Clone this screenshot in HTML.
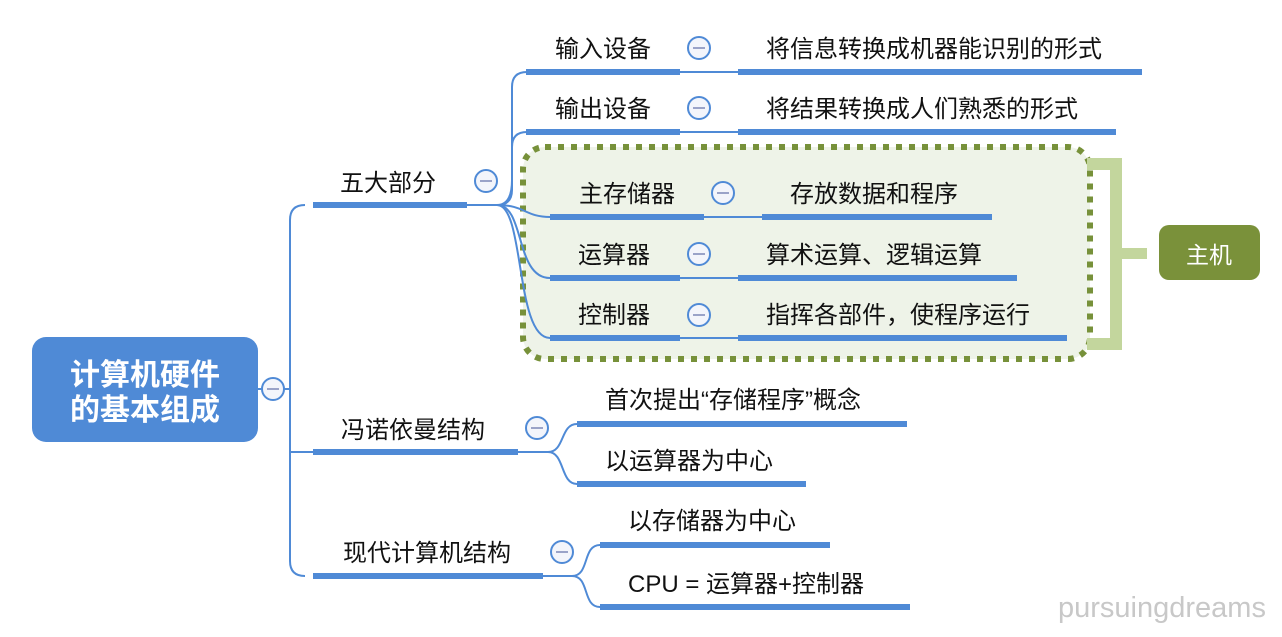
<!DOCTYPE html>
<html><head><meta charset="utf-8"><style>
body{margin:0;background:#fff;}
svg text{font-family:"Liberation Sans","Noto Sans CJK SC",sans-serif;}
</style></head><body>
<svg width="1282" height="632" viewBox="0 0 1282 632" xmlns="http://www.w3.org/2000/svg">
<rect x="523" y="147" width="567" height="212" rx="22" fill="#eef3e8" stroke="#77913a" stroke-width="6" stroke-dasharray="6 7"/>
<path d="M1087,164 H1116 V344 H1087" fill="none" stroke="#c3d69d" stroke-width="12"/>
<rect x="1116" y="248" width="31" height="11" fill="#c3d69d"/>
<rect x="1159" y="225" width="101" height="55" rx="10" fill="#7a913a"/>
<text x="1209" y="263" font-size="23" fill="#fff" text-anchor="middle">主机</text>
<rect x="32" y="337" width="226" height="105" rx="14" fill="#4f8ad6"/>
<text x="145" y="385" font-size="30" fill="#fff" text-anchor="middle" font-weight="bold">计算机硬件</text>
<text x="145" y="420" font-size="30" fill="#fff" text-anchor="middle" font-weight="bold">的基本组成</text>
<g fill="none" stroke="#4f8ad6" stroke-width="2">
<path d="M258,389 H290 M305,205 Q290,205 290,220 V561 Q290,576 305,576 M290,452 H313"/>
<path d="M467,205 H497"/>
<path d="M497,205 Q512,205 512,190 L512,87 Q512,72 527,72"/>
<path d="M497,205 Q512,205 512,180 L512,147 Q512,132 527,132"/>
<path d="M497,205 C525,205 525,217 550,217"/>
<path d="M497,205 C525,205 515,278 550,278"/>
<path d="M497,205 C525,205 515,338 550,338"/>
<path d="M680,72 H738 M680,132 H738 M704,217 H762 M680,278 H738 M680,338 H738"/>
<path d="M518,452 H548 C565,452 560,424 577,424 M548,452 C565,452 560,484 577,484"/>
<path d="M543,576 H572 C590,576 582,545 600,545 M572,576 C590,576 582,607 600,607"/>
</g>
<g fill="#4f8ad6">
<rect x="313" y="202" width="154" height="6"/>
<rect x="526" y="69" width="154" height="6"/><rect x="738" y="69" width="404" height="6"/>
<rect x="526" y="129" width="154" height="6"/><rect x="738" y="129" width="378" height="6"/>
<rect x="550" y="214" width="154" height="6"/><rect x="762" y="214" width="230" height="6"/>
<rect x="550" y="275" width="130" height="6"/><rect x="738" y="275" width="279" height="6"/>
<rect x="550" y="335" width="130" height="6"/><rect x="738" y="335" width="329" height="6"/>
<rect x="313" y="449" width="205" height="6"/>
<rect x="577" y="421" width="330" height="6"/><rect x="577" y="481" width="229" height="6"/>
<rect x="313" y="573" width="230" height="6"/>
<rect x="600" y="542" width="230" height="6"/><rect x="600" y="604" width="310" height="6"/>
</g>
<g fill="#f3f5fb" stroke="#4f8ad6" stroke-width="2">
<circle cx="273" cy="389" r="11"/><circle cx="486" cy="181" r="11"/>
<circle cx="699" cy="48" r="11"/><circle cx="699" cy="108" r="11"/>
<circle cx="723" cy="193" r="11"/><circle cx="699" cy="254" r="11"/><circle cx="699" cy="315" r="11"/>
<circle cx="537" cy="428" r="11"/><circle cx="562" cy="552" r="11"/>
</g>
<g stroke="#9aa3c8" stroke-width="2">
<path d="M267,389h12M480,181h12M693,48h12M693,108h12M717,193h12M693,254h12M693,315h12M531,428h12M556,552h12"/>
</g>
<g font-size="24" fill="#111">
<text x="388" y="191" text-anchor="middle">五大部分</text>
<text x="603" y="57" text-anchor="middle">输入设备</text>
<text x="766" y="57">将信息转换成机器能识别的形式</text>
<text x="603" y="117" text-anchor="middle">输出设备</text>
<text x="766" y="117">将结果转换成人们熟悉的形式</text>
<text x="627" y="202" text-anchor="middle">主存储器</text>
<text x="790" y="202">存放数据和程序</text>
<text x="614" y="263" text-anchor="middle">运算器</text>
<text x="766" y="263">算术运算、逻辑运算</text>
<text x="614" y="323" text-anchor="middle">控制器</text>
<text x="766" y="323">指挥各部件，使程序运行</text>
<text x="413" y="438" text-anchor="middle">冯诺依曼结构</text>
<text x="605" y="408">首次提出“存储程序”概念</text>
<text x="605" y="469">以运算器为中心</text>
<text x="427" y="561" text-anchor="middle">现代计算机结构</text>
<text x="628" y="529">以存储器为中心</text>
<text x="628" y="592">CPU = 运算器+控制器</text>
</g>
<text x="1058" y="617" font-size="29" fill="#c8c8c8">pursuingdreams</text>
</svg>
</body></html>
